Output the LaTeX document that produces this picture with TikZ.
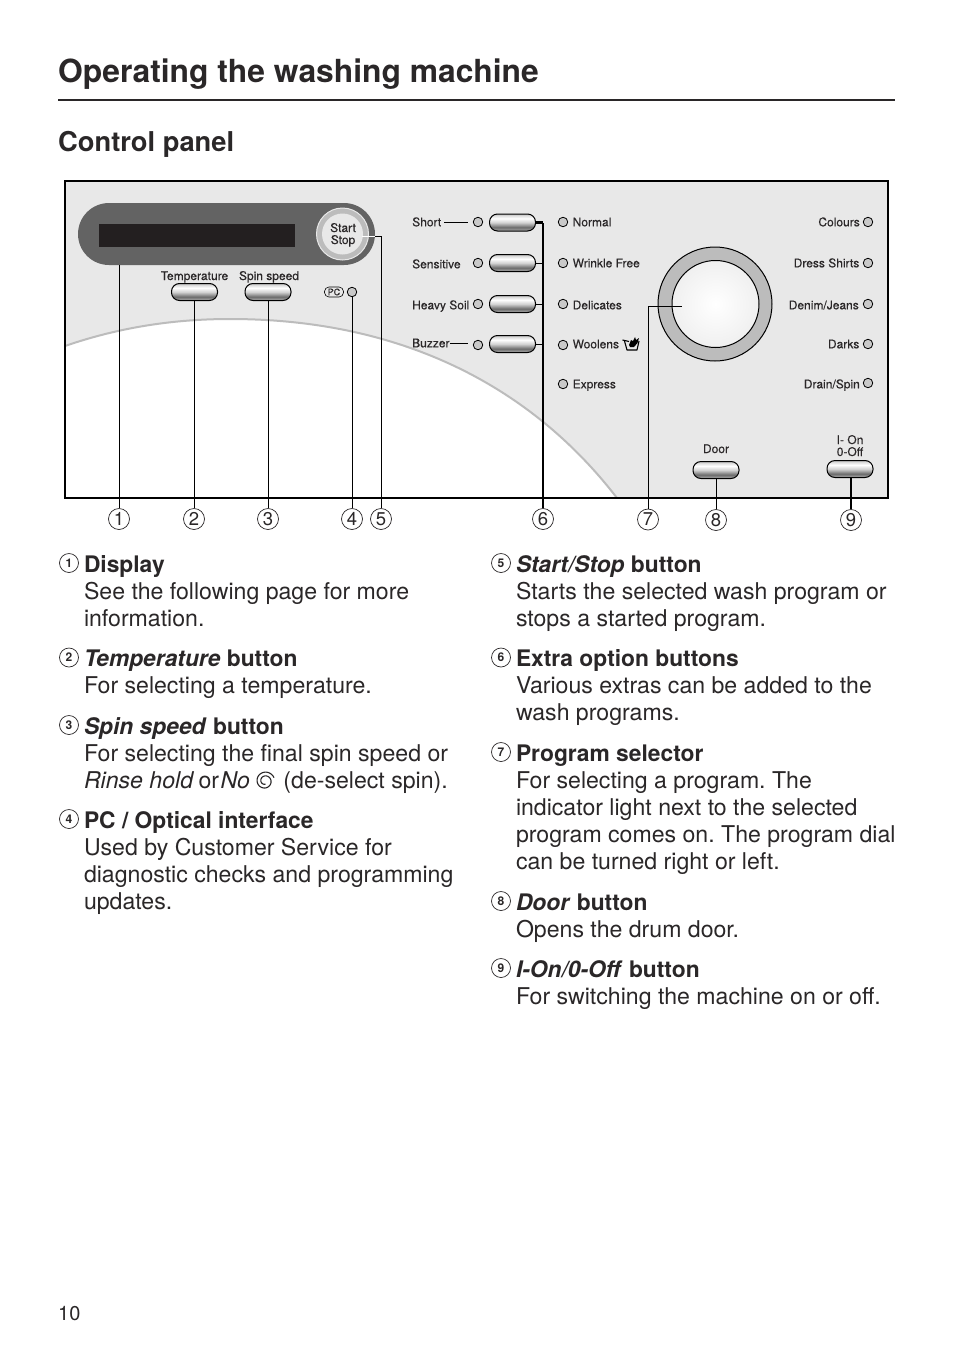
\documentclass[tikz,border=0pt]{standalone}
\usepackage{fontspec}
\setmainfont{TeX Gyre Heros}
\newfontfamily\labfont[FakeBold=0.25]{TeX Gyre Heros}
\definecolor{panelbg}{HTML}{E8E8E8}
\definecolor{pill}{HTML}{636363}
\definecolor{lcd}{HTML}{231F20}
\definecolor{ringc}{HTML}{BCBCBC}
\definecolor{ink}{HTML}{2A2728}
\pgfdeclareverticalshading{btnshade}{100bp}{color(0bp)=(gray!75); color(27bp)=(gray!75); color(36bp)=(gray!115); color(50bp)=(gray!35); color(62bp)=(white); color(70bp)=(gray!25); color(75bp)=(gray!50); color(100bp)=(gray!50)}
\newcommand{\bodysize}{\fontsize{23.1}{27.2}\selectfont}
\newcommand{\hd}[1]{{\fontsize{22.8}{27.2}\selectfont\bfseries #1}}
\frenchspacing
\tikzset{
  x=1pt,y=-1pt,
  entry/.style={anchor=north west,inner sep=0pt,outer sep=0pt,align=left,font=\bodysize\frenchspacing,text=ink},
  listnum/.style={circle,draw=ink,line width=.7pt,minimum size=19pt,inner sep=0pt,font=\fontsize{12}{12}\selectfont\bfseries,text=ink},
  callout/.style={circle,draw=ink,line width=.7pt,minimum size=21pt,inner sep=0pt,font=\fontsize{18.5}{19}\selectfont,text=ink},
  pbtn/.style={rounded corners=8pt,draw=black,line width=1pt,minimum width=46pt,minimum height=17pt,inner sep=0pt,shading=btnshade},
  led/.style={circle,draw=black,line width=.8pt,fill=ringc!80!white,minimum size=9.5pt,inner sep=0pt},
  lab/.style={inner sep=0pt,font=\labfont\fontsize{12}{12}\selectfont,text=ink},
  lead/.style={draw=black,line width=1pt},
  leadb/.style={draw=black,line width=2.2pt}
}
\newcommand{\Entry}[5]{%
  \node[listnum] (n#1) at (#2,#3-9) {#1};
  \node[entry] (t#1) at (#2+15,#3-19.04) {\strut #4\\#5};
}
\begin{document}
\begin{tikzpicture}
\useasboundingbox (0,0) rectangle (954,1352);
\fill[white] (0,0) rectangle (954,1352);
% heading
\node[anchor=base west,inner sep=0pt,font=\fontsize{31.8}{36}\selectfont\bfseries,text=ink] (title) at (58,82) {Operating the washing machine};
\coordinate (ruleL) at (58,100);
\coordinate (ruleR) at (895,100);
\draw[line width=2pt,ink] (ruleL) -- (ruleR);
\node[anchor=base west,inner sep=0pt,font=\fontsize{27.3}{32}\selectfont\bfseries,text=ink] (sub) at (58,151) {Control panel};
% panel
\fill[panelbg] (65,181) rectangle (888,498);
\fill[white] (65,346) .. controls (120,327) and (175,319) .. (230,319) .. controls (400,319) and (530,385) .. (617,498) -- (65,498) -- cycle;
\draw[ringc,line width=2pt] (65,346) .. controls (120,327) and (175,319) .. (230,319) .. controls (400,319) and (530,385) .. (617,498);
\draw[black,line width=2.4pt] (65,181) rectangle (888,498);
% display
\node[rounded corners=31pt,fill=pill,minimum width=297pt,minimum height=62pt,inner sep=0pt] (disp) at (226.5,234) {};
\node[fill=lcd,minimum width=196pt,minimum height=23pt,inner sep=0pt] (lcdw) at (197,235.5) {};
\node[circle,fill=ringc,draw=panelbg,line width=1pt,minimum size=52pt,inner sep=0pt] (ss) at (342.5,234) {};
\node[circle,fill=panelbg,minimum size=41pt,inner sep=0pt] (ssin) at (342.5,234) {};
\node[lab,anchor=base] (lstart) at (343,232) {Start};
\node[lab,anchor=base] (lstop) at (343,244) {Stop};
% top buttons
\node[lab,anchor=base] (ltemp) at (194.5,280) {Temperature};
\node[lab,anchor=base] (lspin) at (269,280) {Spin speed};
\node[pbtn] (btemp) at (194.5,292) {};
\node[pbtn] (bspin) at (268,292) {};
\node[rounded corners=4.5pt,draw=black,line width=.6pt,minimum width=19pt,minimum height=10pt,inner sep=0pt,font=\labfont\fontsize{9}{9}\selectfont,text=ink] (pc) at (334,292) {PC};
\node[led] (ledpc) at (352,292) {};
% left option column
\node[lab,anchor=base west] (lshort) at (412,226.3) {Short};
\node[lab,anchor=base west] (lsens) at (412,268.3) {Sensitive};
\node[lab,anchor=base west] (lheavy) at (412,309.3) {Heavy Soil};
\node[lab,anchor=base west] (lbuzz) at (412,347.3) {Buzzer};
\node[led] (la) at (478,222) {};
\node[led] (lb) at (478,263) {};
\node[led] (lc) at (478,304) {};
\node[led] (ld) at (478,345) {};
\node[pbtn] (ba) at (512.5,222.5) {};
\node[pbtn] (bb) at (512.5,263) {};
\node[pbtn] (bc) at (512.5,304) {};
\node[pbtn] (bd) at (512.5,344) {};
\coordinate (sa) at (444,222);
\coordinate (sb) at (468,222);
\coordinate (za) at (450,343);
\coordinate (zb) at (468,343);
\draw[lead] (sa) -- (sb);
\draw[lead] (za) -- (zb);
% middle column
\foreach \nm/\yy/\tb/\tx in {ma/222/226.3/Normal,mb/263/267.3/Wrinkle Free,mc/304/309.3/Delicates,md/345/348.3/Woolens,me/384/388.3/Express}{
  \node[led] (\nm) at (563,\yy) {};
  \node[lab,anchor=base west] (t\nm) at (572.5,\tb) {\tx};
}
% handwash symbol
\draw[black,line width=1.1pt,line join=round] (624.5,341) -- (627,350) -- (637,350) -- (639,341);
\draw[black,line width=1.1pt] (622.5,340) -- (629,341.5);
\fill[black] (629,345) -- (631,340) -- (633,341) -- (635,337) -- (636,340) -- (639,338) -- (637.5,343) -- (634,347) -- (630,347) -- cycle;
% right column
\foreach \nm/\yy in {ra/222,rb/263,rc/304,rd/344,re/383}{
  \node[led] (\nm) at (868,\yy) {};
}
\node[lab,anchor=base east] (tra) at (860,226.3) {Colours};
\node[lab,anchor=base east] (trb) at (859.5,267.3) {Dress Shirts};
\node[lab,anchor=base east] (trc) at (859,309.3) {Denim/Jeans};
\node[lab,anchor=base east] (trd) at (859.5,348.3) {Darks};
\node[lab,anchor=base east] (tre) at (860,388.3) {Drain/Spin};
% dial
\node[circle,draw=black,line width=1pt,fill=ringc,minimum size=114pt,inner sep=0pt] (dial) at (715,304) {};
\node[circle,draw=black,line width=1pt,minimum size=87pt,inner sep=0pt,inner color=white,outer color=white!88!gray] (knob) at (715.5,304) {};
\coordinate (dialpt) at (682,306);
% door and power
\node[lab,anchor=base] (ldoor) at (716,453) {Door};
\node[pbtn] (bdoor) at (716,470) {};
\node[lab,anchor=base] (lon) at (850,444) {I- On};
\node[lab,anchor=base] (loff) at (850,456) {0-Off};
\node[pbtn] (bpow) at (850,469) {};
% callouts
\node[callout] (c1) at (119,519) {1};
\node[callout] (c2) at (194,519) {2};
\node[callout] (c3) at (268,519) {3};
\node[callout] (c4) at (352,519) {4};
\node[callout] (c5) at (381,519) {5};
\node[callout] (c6) at (543,519) {6};
\node[callout] (c7) at (648,519.5) {7};
\node[callout] (c8) at (716,520) {8};
\node[callout] (c9) at (851,520) {9};
% leaders
\coordinate (d1) at (c1 |- disp.south);
\draw[lead] (c1.north) -- (d1);
\draw[lead] (c2.north) -- (c2 |- btemp.south);
\draw[lead] (c3.north) -- (c3 |- bspin.south);
\draw[lead] (c4.north) -- (ledpc.south);
\coordinate (ssR) at (375,236);
\coordinate (ssL) at (362,236);
\draw[lead] (c5.north) |- (ssR);
\draw[white,line width=1pt] (ssR) -- (ssL);
\draw[leadb] (c6.north) -- (c6 |- ba.east);
\draw[leadb] (ba.east) -- (c6 |- ba.east);
\draw[lead] (bb.east) -- (c6 |- bb.east);
\draw[lead] (bc.east) -- (c6 |- bc.east);
\draw[lead] (bd.east) -- (c6 |- bd.east);
\draw[lead] (c7.north) |- (dialpt);
\draw[lead] (c8.north) -- (c8 |- bdoor.south);
\draw[leadb] (c9.north) -- (c9 |- bpow.south);
% left column text
\Entry{1}{69}{572}{\hd{Display}}{See the following page for more\\information.}
\Entry{2}{69}{666.5}{\hd{\textit{Temperature} button}}{For selecting a temperature.}
\Entry{3}{69}{734}{\hd{\textit{Spin speed} button}}{For selecting the final spin speed or\\\textit{Rinse hold}\hspace{4.5pt}or\hspace{1.5pt}\textit{No}\hspace{33.5pt}(de-select spin).}
\Entry{4}{69}{828}{\hd{PC / Optical interface}}{Used by Customer Service for\\diagnostic checks and programming\\updates.}
% right column text
\Entry{5}{501}{572}{\hd{\textit{Start/Stop} button}}{Starts the selected wash program or\\stops a started program.}
\Entry{6}{501}{666.5}{\hd{Extra option buttons}}{Various extras can be added to the\\wash programs.}
\Entry{7}{501}{761}{\hd{Program selector}}{For selecting a program. The\\indicator light next to the selected\\program comes on. The program dial\\can be turned right or left.}
\Entry{8}{501}{910}{\hd{\textit{Door} button}}{Opens the drum door.}
\Entry{9}{501}{977}{\hd{\textit{I-On/0-Off} button}}{For switching the machine on or off.}
% spin symbol
\draw[ink,line width=1.1pt] plot[domain=20:640,samples=70,smooth] ({265+(9.6-(\x-20)/620*6.5)*cos(\x)},{781-(9.6-(\x-20)/620*6.5)*sin(\x)});
% page number
\node[anchor=base west,inner sep=0pt,font=\fontsize{20}{24}\selectfont,text=ink] (pg) at (58,1320) {10};
\end{tikzpicture}
\end{document}
